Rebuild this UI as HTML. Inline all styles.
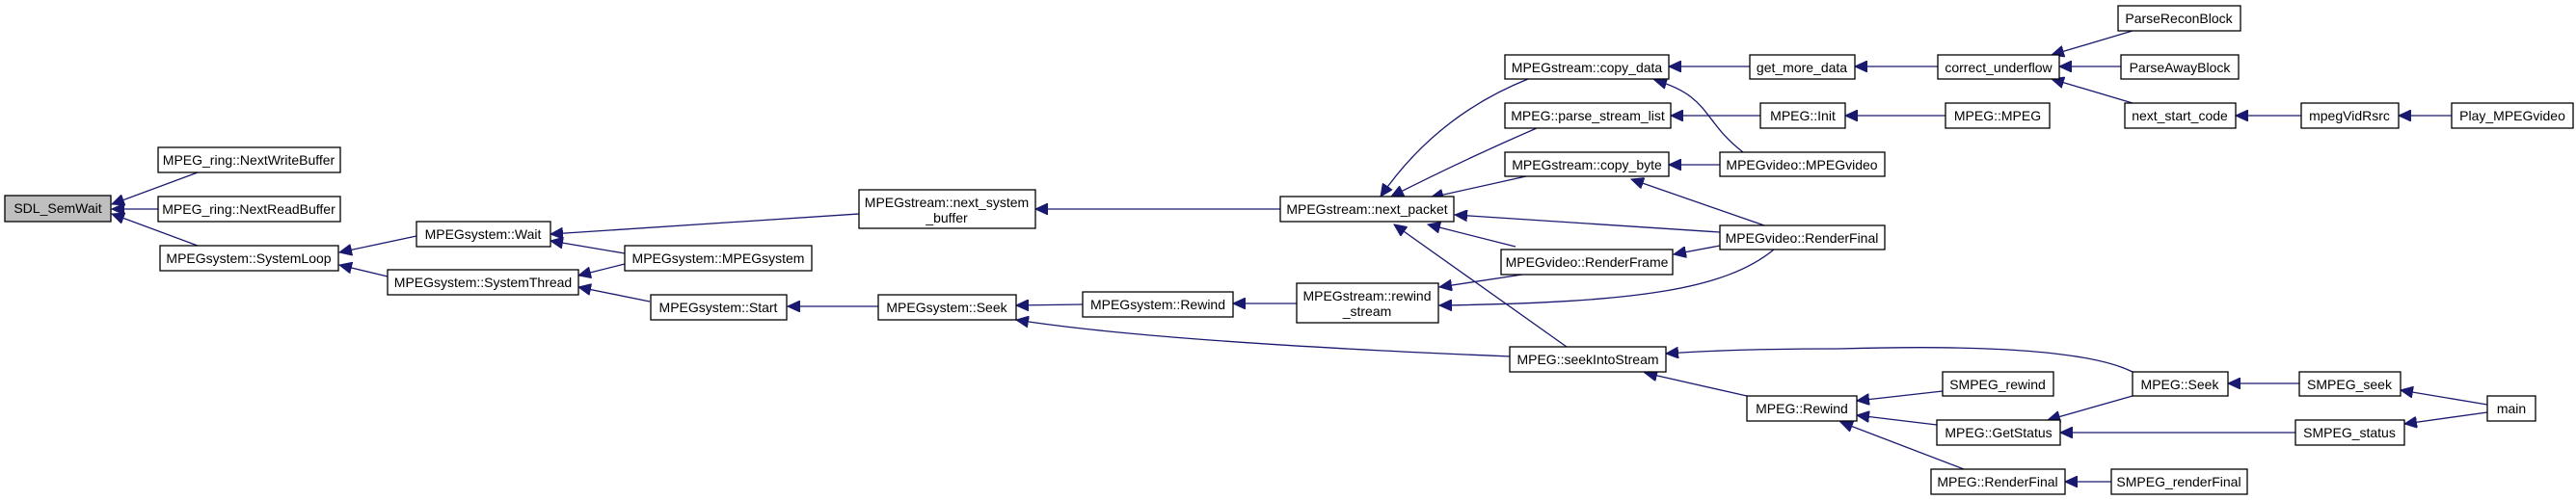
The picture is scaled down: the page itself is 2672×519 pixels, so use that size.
<!DOCTYPE html>
<html><head><meta charset="utf-8"><style>
html,body{margin:0;padding:0;background:#fff;}
svg{display:block;}
text{font-family:"Liberation Sans",sans-serif;font-size:14px;fill:#000;text-anchor:middle;}
.b{fill:#fff;stroke:#000;stroke-width:1.3;}
.e{fill:none;stroke:#191970;stroke-width:1.3;marker-end:url(#a);}
</style></head><body>
<svg width="2672" height="519" viewBox="0 0 2672 519" xmlns="http://www.w3.org/2000/svg">
<defs><marker id="a" markerUnits="userSpaceOnUse" markerWidth="14" markerHeight="12" refX="13" refY="6" orient="auto"><path d="M0,0 L13,6 L0,12 Z" fill="#191970" stroke="#191970"/></marker></defs>

<path class="e" d="M205,179 L116,212"/>
<path class="e" d="M164,217 L116,217"/>
<path class="e" d="M205,255 L116,222"/>
<path class="e" d="M432,245 L352,262"/>
<path class="e" d="M402,287 L352,275"/>
<path class="e" d="M891,222 L571,243"/>
<path class="e" d="M648,263 L571,250"/>
<path class="e" d="M648,274 L600,286"/>
<path class="e" d="M674,313 L600,298"/>
<path class="e" d="M911,318 L817,318"/>
<path class="e" d="M1123,316 L1054,317"/>
<path class="e" d="M1345,315 L1279,315"/>
<path class="e" d="M1567,370 Q1200,355 1054,332"/>
<path class="e" d="M1328,217 L1074,217"/>
<path class="e" d="M1585,82 Q1490,120 1432,204"/>
<path class="e" d="M1594,133 Q1520,165 1443,204"/>
<path class="e" d="M1583,183 L1484,205"/>
<path class="e" d="M1784,241 L1509,223"/>
<path class="e" d="M1572,256 L1481,233"/>
<path class="e" d="M1625,360 L1446,233"/>
<path class="e" d="M1784,255 L1736,264"/>
<path class="e" d="M1830,234 L1692,186"/>
<path class="e" d="M1808,158 C1765,125 1775,100 1716,83"/>
<path class="e" d="M1784,171 L1731,171"/>
<path class="e" d="M1840,259 C1790,300 1700,314 1493,317"/>
<path class="e" d="M1579,285 L1493,298"/>
<path class="e" d="M1815,69 L1731,69"/>
<path class="e" d="M1826,120 L1733,120"/>
<path class="e" d="M2010,69 L1924,69"/>
<path class="e" d="M2018,120 L1914,120"/>
<path class="e" d="M2212,32 L2128,57"/>
<path class="e" d="M2200,69 L2136,69"/>
<path class="e" d="M2212,107 L2128,82"/>
<path class="e" d="M2387,120 L2319,120"/>
<path class="e" d="M2543,120 L2488,120"/>
<path class="e" d="M2212,386 Q2150,355 1908,362 Q1800,362 1728,367"/>
<path class="e" d="M1812,411 L1706,387"/>
<path class="e" d="M2015,406 L1926,416"/>
<path class="e" d="M2009,441 L1926,431"/>
<path class="e" d="M2037,487 L1909,438"/>
<path class="e" d="M2190,500 L2142,500"/>
<path class="e" d="M2212,411 L2124,436"/>
<path class="e" d="M2381,449 L2137,449"/>
<path class="e" d="M2385,398 L2311,398"/>
<path class="e" d="M2580,420 L2490,405"/>
<path class="e" d="M2580,428 L2494,440"/>

<rect x="5" y="203" width="110" height="27" fill="#bfbfbf" stroke="#000" stroke-width="1.3"/><text x="60" y="221">SDL_SemWait</text>
<rect class="b" x="164" y="153" width="189" height="26"/><text x="258" y="171">MPEG_ring::NextWriteBuffer</text>
<rect class="b" x="164" y="204" width="189" height="26"/><text x="258" y="222">MPEG_ring::NextReadBuffer</text>
<rect class="b" x="166" y="255" width="185" height="26"/><text x="258" y="273">MPEGsystem::SystemLoop</text>
<rect class="b" x="432" y="230" width="139" height="26"/><text x="501" y="248">MPEGsystem::Wait</text>
<rect class="b" x="648" y="255" width="194" height="26"/><text x="745" y="273">MPEGsystem::MPEGsystem</text>
<rect class="b" x="402" y="280" width="198" height="26"/><text x="501" y="298">MPEGsystem::SystemThread</text>
<rect class="b" x="675" y="306" width="141" height="26"/><text x="745" y="324">MPEGsystem::Start</text>
<rect class="b" x="911" y="306" width="143" height="26"/><text x="982" y="324">MPEGsystem::Seek</text>
<rect class="b" x="1123" y="303" width="156" height="26"/><text x="1201" y="321">MPEGsystem::Rewind</text>
<rect class="b" x="1345" y="294" width="147" height="41"/><text x="1418" y="312">MPEGstream::rewind</text><text x="1418" y="328">_stream</text>
<rect class="b" x="891" y="197" width="183" height="40"/><text x="982" y="215">MPEGstream::next_system</text><text x="982" y="231">_buffer</text>
<rect class="b" x="1328" y="204" width="180" height="26"/><text x="1418" y="222">MPEGstream::next_packet</text>
<rect class="b" x="1561" y="57" width="170" height="25"/><text x="1646" y="75">MPEGstream::copy_data</text>
<rect class="b" x="1561" y="107" width="172" height="26"/><text x="1647" y="125">MPEG::parse_stream_list</text>
<rect class="b" x="1561" y="158" width="170" height="25"/><text x="1646" y="176">MPEGstream::copy_byte</text>
<rect class="b" x="1557" y="259" width="178" height="26"/><text x="1646" y="277">MPEGvideo::RenderFrame</text>
<rect class="b" x="1566" y="360" width="162" height="26"/><text x="1647" y="378">MPEG::seekIntoStream</text>
<rect class="b" x="1815" y="57" width="109" height="25"/><text x="1869" y="75">get_more_data</text>
<rect class="b" x="1826" y="107" width="88" height="26"/><text x="1870" y="125">MPEG::Init</text>
<rect class="b" x="1784" y="158" width="171" height="25"/><text x="1869" y="176">MPEGvideo::MPEGvideo</text>
<rect class="b" x="1784" y="234" width="171" height="25"/><text x="1869" y="252">MPEGvideo::RenderFinal</text>
<rect class="b" x="2010" y="57" width="126" height="25"/><text x="2073" y="75">correct_underflow</text>
<rect class="b" x="2018" y="107" width="108" height="26"/><text x="2072" y="125">MPEG::MPEG</text>
<rect class="b" x="2197" y="6" width="127" height="26"/><text x="2260" y="24">ParseReconBlock</text>
<rect class="b" x="2200" y="57" width="122" height="25"/><text x="2261" y="75">ParseAwayBlock</text>
<rect class="b" x="2204" y="107" width="115" height="26"/><text x="2261" y="125">next_start_code</text>
<rect class="b" x="2387" y="107" width="101" height="26"/><text x="2437" y="125">mpegVidRsrc</text>
<rect class="b" x="2543" y="107" width="126" height="26"/><text x="2606" y="125">Play_MPEGvideo</text>
<rect class="b" x="1812" y="411" width="114" height="26"/><text x="1869" y="429">MPEG::Rewind</text>
<rect class="b" x="2015" y="386" width="115" height="25"/><text x="2072" y="404">SMPEG_rewind</text>
<rect class="b" x="2009" y="436" width="128" height="26"/><text x="2073" y="454">MPEG::GetStatus</text>
<rect class="b" x="2003" y="487" width="139" height="26"/><text x="2072" y="505">MPEG::RenderFinal</text>
<rect class="b" x="2190" y="487" width="141" height="26"/><text x="2260" y="505">SMPEG_renderFinal</text>
<rect class="b" x="2212" y="386" width="99" height="25"/><text x="2261" y="404">MPEG::Seek</text>
<rect class="b" x="2385" y="386" width="105" height="25"/><text x="2437" y="404">SMPEG_seek</text>
<rect class="b" x="2381" y="436" width="113" height="26"/><text x="2437" y="454">SMPEG_status</text>
<rect class="b" x="2580" y="411" width="50" height="26"/><text x="2605" y="429">main</text>
</svg>
</body></html>
